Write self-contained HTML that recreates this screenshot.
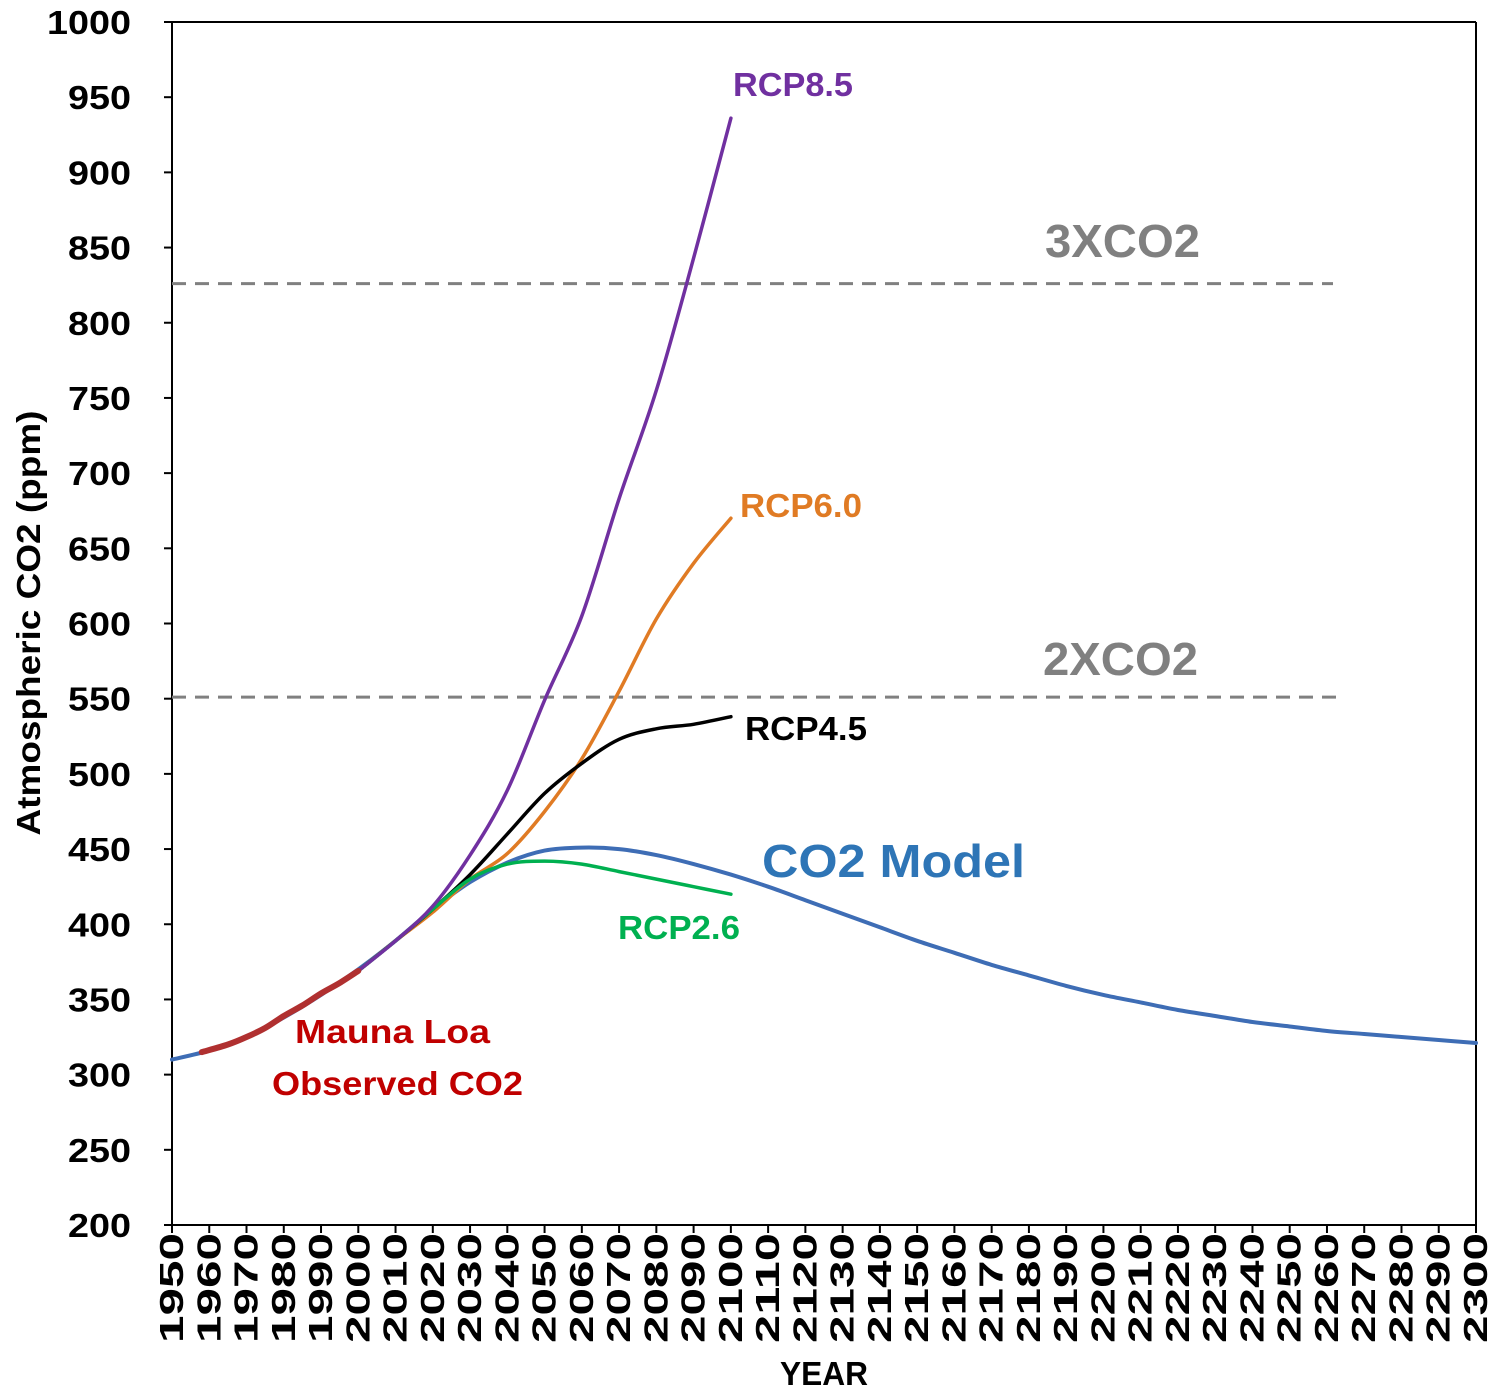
<!DOCTYPE html>
<html><head><meta charset="utf-8">
<style>
html,body{margin:0;padding:0;background:#fff;}
svg{display:block;font-family:"Liberation Sans",sans-serif;font-weight:bold;}
</style></head>
<body>
<svg id="chart" width="1500" height="1394" viewBox="0 0 1500 1394" xmlns="http://www.w3.org/2000/svg"></svg>
<script>
const modelYears=[1950,1960,1970,1980,1990,2000,2010,2020,2030,2040,2050,2060,2070,2080,2090,2100,2110,2120,2130,2140,2150,2160,2170,2180,2190,2200,2210,2220,2230,2240,2250,2260,2270,2280,2290,2300];
const modelVals=[310,316,325,338,353,370,389,410,428,441,449,451,450,446,440,433,425,416,407,398,389,381,373,366,359,353,348,343,339,335,332,329,327,325,323,321];
const maunaYears=[1958,1965,1970,1975,1980,1985,1990,1995,2000];
const maunaVals=[315,320,325,331,339,346,354,361,369];
const rcpYears=[2000,2010,2020,2030,2040,2050,2060,2070,2080,2090,2100];
const rcp85=[369,389,412,446,489,549,605,683,755,843,936];
const rcp60=[369,389,408,430,447,475,510,555,603,640,670];
const rcp45=[369,389,410,433,460,487,507,523,530,533,538];
const rcp26=[369,389,410,430,440,442,440,435,430,425,420];
const yTicks=[200,250,300,350,400,450,500,550,600,650,700,750,800,850,900,950,1000];
const xTicks=[1950,1960,1970,1980,1990,2000,2010,2020,2030,2040,2050,2060,2070,2080,2090,2100,2110,2120,2130,2140,2150,2160,2170,2180,2190,2200,2210,2220,2230,2240,2250,2260,2270,2280,2290,2300];

const X0=172,X1=1476,Y0=1225,Y1=22;
const xs=v=>X0+(v-1950)/350*(X1-X0);
const ys=v=>Y0-(v-200)/800*(Y0-Y1);
const svg=document.getElementById('chart');
const NS='http://www.w3.org/2000/svg';
function mk(tag,attrs,name){const e=document.createElementNS(NS,tag);for(const k in attrs)e.setAttribute(k,attrs[k]);


svg.appendChild(e);return e;}
function txt(s,x,y,size,fill,name,extra){const t=mk('text',Object.assign({x:x,y:y,'font-size':size,fill:fill},extra||{}),name);t.textContent=s;return t;}

mk('line',{x1:X0,y1:Y1,x2:X0,y2:Y0,stroke:'#000','stroke-width':2},'y-axis');
mk('line',{x1:X0,y1:Y0,x2:X1,y2:Y0,stroke:'#000','stroke-width':2},'x-axis');
mk('line',{x1:X1,y1:Y1,x2:X1,y2:Y0,stroke:'#000','stroke-width':2},'right-border');
mk('line',{x1:X0,y1:Y1,x2:X1,y2:Y1,stroke:'#000','stroke-width':2},'top-border');
yTicks.forEach(v=>{
  mk('line',{x1:X0-8,y1:ys(v),x2:X0,y2:ys(v),stroke:'#000','stroke-width':2},'y-tick');
  txt(String(v),X0-41,ys(v)+12,33,'#000','y-tick-label',{'text-anchor':'end',textLength:String(v).length*21,lengthAdjust:'spacingAndGlyphs'});
});
xTicks.forEach(v=>{
  mk('line',{x1:xs(v),y1:Y0,x2:xs(v),y2:Y0+8,stroke:'#000','stroke-width':2},'x-tick');
  txt(String(v),0,0,33,'#000','x-tick-label',{'text-anchor':'end',textLength:110,lengthAdjust:'spacingAndGlyphs',transform:`translate(${xs(v)+11},${Y0+8}) rotate(-90)`});
});
txt('YEAR',824,1385,33,'#000','x-axis-title',{'text-anchor':'middle',textLength:88,lengthAdjust:'spacingAndGlyphs'});
txt('Atmospheric CO2 (ppm)',0,0,33,'#000','y-axis-title',{'text-anchor':'middle',textLength:425,lengthAdjust:'spacingAndGlyphs',transform:`translate(40,623) rotate(-90)`});

mk('line',{x1:X0,y1:ys(551),x2:1338,y2:ys(551),stroke:'#808080','stroke-width':3,'stroke-dasharray':'14,9'},'2xco2-line');
mk('line',{x1:X0,y1:ys(826),x2:1333,y2:ys(826),stroke:'#808080','stroke-width':3,'stroke-dasharray':'14,9'},'3xco2-line');

function path(xa,ya,color,w,name){
  const p=xa.map((x,i)=>[xs(x),ys(ya[i])]);
  let d='M'+p[0][0].toFixed(1)+','+p[0][1].toFixed(1);
  for(let i=0;i<p.length-1;i++){
    const p0=p[i-1]||p[i],p1=p[i],p2=p[i+1],p3=p[i+2]||p2;
    const c1=[p1[0]+(p2[0]-p0[0])/6,p1[1]+(p2[1]-p0[1])/6];
    const c2=[p2[0]-(p3[0]-p1[0])/6,p2[1]-(p3[1]-p1[1])/6];
    d+=` C${c1[0].toFixed(1)},${c1[1].toFixed(1)} ${c2[0].toFixed(1)},${c2[1].toFixed(1)} ${p2[0].toFixed(1)},${p2[1].toFixed(1)}`;
  }
  mk('path',{d:d,fill:'none',stroke:color,'stroke-width':w,'stroke-linejoin':'round','stroke-linecap':'round'},name);
}
path(modelYears,modelVals,'#3E6DB5',4,'co2-model-line');
path(rcpYears,rcp60,'#E07B24',3.5,'rcp60-line');
path(rcpYears,rcp45,'#000000',3.5,'rcp45-line');
path(rcpYears,rcp26,'#00B050',3.5,'rcp26-line');
path(rcpYears,rcp85,'#7030A0',3.5,'rcp85-line');
path(maunaYears,maunaVals,'#B03030',6,'mauna-loa-line');

const L={lengthAdjust:'spacingAndGlyphs'};
txt('RCP8.5',733,96,33,'#7030A0','rcp85-label',Object.assign({textLength:120},L));
txt('3XCO2',1045,257,46,'#808080','3xco2-label',Object.assign({textLength:155},L));
txt('2XCO2',1043,675,46,'#808080','2xco2-label',Object.assign({textLength:155},L));
txt('RCP6.0',740,517,33,'#E07B24','rcp60-label',Object.assign({textLength:122},L));
txt('RCP4.5',745,740,33,'#000','rcp45-label',Object.assign({textLength:122},L));
txt('CO2 Model',762,877,46,'#2E75B6','co2-model-label',Object.assign({textLength:263},L));
txt('RCP2.6',618,939,33,'#00B050','rcp26-label',Object.assign({textLength:122},L));
txt('Mauna Loa',295,1043,33,'#C00000','mauna-loa-label',Object.assign({textLength:195},L));
txt('Observed CO2',272,1095,33,'#C00000','observed-co2-label',Object.assign({textLength:251},L));
</script>
</body></html>
